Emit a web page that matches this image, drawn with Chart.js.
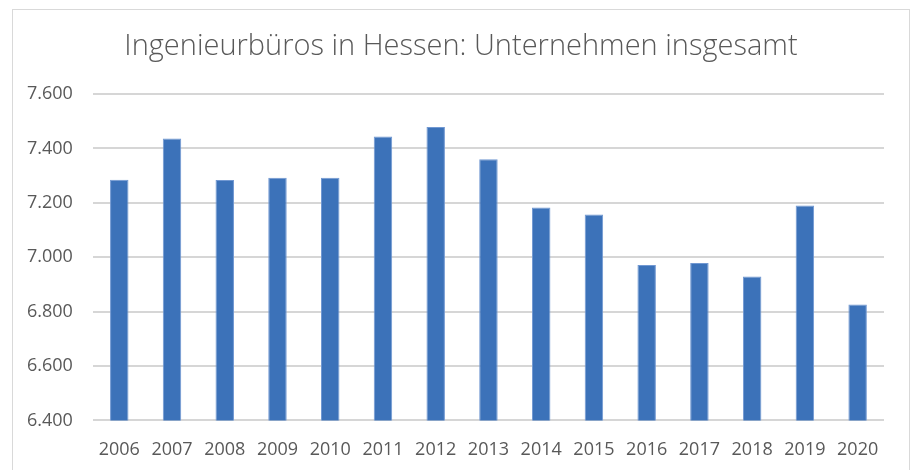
<!DOCTYPE html>
<html>
<head>
<meta charset="utf-8">
<script src="https://cdn.jsdelivr.net/npm/chart.js@4/dist/chart.umd.min.js"></script>
<style>
  html, body { margin: 0; padding: 0; background: #ffffff; }
  #wrap { position: relative; width: 912px; height: 470px; overflow: hidden; }
  #frame { position: absolute; left: 12px; top: 9px; width: 898px; height: 480px; border: 1.5px solid #d9d9d9; box-sizing: border-box; }
  canvas { position: absolute; left: 0; top: 0; }
</style>
</head>
<body>
<div id="wrap">
  <div id="frame"></div>
  <canvas id="c" width="912" height="470"></canvas>
</div>
<script>
const chartTitle = "Ingenieurbüros in Hessen: Unternehmen insgesamt";
const years = ["2006","2007","2008","2009","2010","2011","2012","2013","2014","2015","2016","2017","2018","2019","2020"];
const companies = [7285, 7436, 7284, 7292, 7292, 7444, 7479, 7360, 7183, 7157, 6971, 6979, 6929, 7190, 6826];
const yMin = 6400;
const yMax = 7600;
const yStep = 200;

function formatDe(v) {
  const s = Math.round(v).toString();
  return s.replace(/\B(?=(\d{3})+(?!\d))/g, ".");
}

const textColor = "#595959";
const gridColor = "#d6d6d6";

const titlePlugin = {
  id: "frameTitle",
  afterDraw(chart) {
    const ctx = chart.ctx;
    ctx.save();
    ctx.font = "300 29px 'Open Sans'";
    ctx.fillStyle = textColor;
    ctx.textAlign = "center";
    ctx.textBaseline = "alphabetic";
    ctx.fillText(chartTitle, 461, 55);
    ctx.restore();
  }
};

new Chart(document.getElementById("c"), {
  type: "bar",
  data: {
    labels: years,
    datasets: [{
      label: "Unternehmen insgesamt",
      data: companies,
      backgroundColor: "#3c72b9",
      borderColor: "#7198d2",
      borderWidth: 1,
      borderSkipped: "bottom",
      barPercentage: 0.35,
      categoryPercentage: 1.0
    }]
  },
  plugins: [titlePlugin],
  options: {
    responsive: false,
    animation: false,
    devicePixelRatio: 1,
    layout: { padding: { left: 7, right: 28, top: 94, bottom: -10 } },
    plugins: {
      legend: { display: false },
      tooltip: { enabled: false },
      title: { display: false }
    },
    scales: {
      x: {
        grid: { display: false, drawTicks: false },
        border: { display: false },
        ticks: {
          color: textColor,
          font: { family: "'Open Sans'", size: 18 },
          padding: 19,
          maxRotation: 0
        }
      },
      y: {
        min: yMin,
        max: yMax,
        border: { display: false },
        grid: { color: gridColor, lineWidth: 2, drawTicks: false },
        ticks: {
          stepSize: yStep,
          color: textColor,
          font: { family: "'Open Sans'", size: 18 },
          padding: 20,
          callback: (v) => formatDe(v)
        }
      }
    }
  }
});
</script>
</body>
</html>
